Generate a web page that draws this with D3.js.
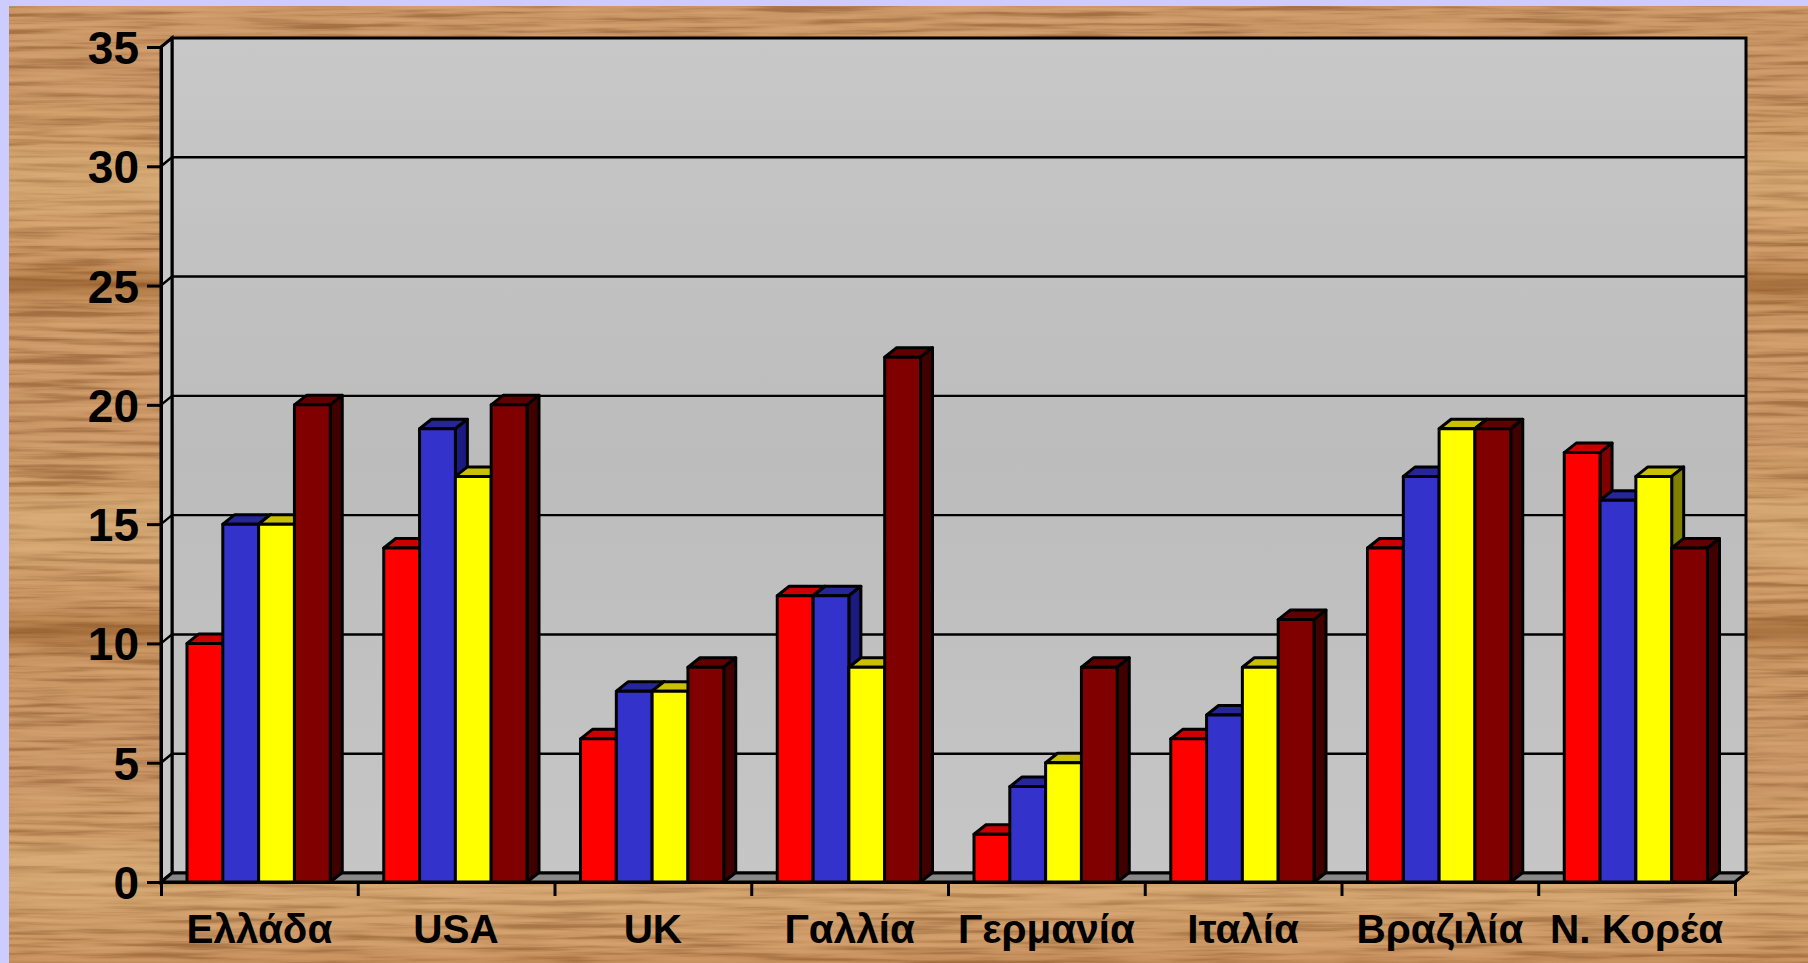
<!DOCTYPE html>
<html><head><meta charset="utf-8">
<script src="https://cdn.jsdelivr.net/npm/d3@7"></script>
<style>html,body{margin:0;padding:0;background:#CCCCFF;overflow:hidden}svg{display:block}text{font-family:"Liberation Sans",Arial,sans-serif;font-weight:bold;fill:#000}</style>
</head><body><div id="c"></div>
<script>
const categories = ["Ελλάδα","USA","UK","Γαλλία","Γερμανία","Ιταλία","Βραζιλία","Ν. Κορέα"];
const seriesA = [10,14,6,12,2,6,14,18];
const seriesB = [15,19,8,12,4,7,17,16];
const seriesC = [15,17,8,9,5,9,19,17];
const seriesD = [20,20,9,22,9,11,19,14];
const yTicks = [0,5,10,15,20,25,30,35];
const fronts = ["#FF0000","#3333CC","#FFFF00","#800000"];
const tops   = ["#CC0000","#262699","#C8C000","#600000"];
const sides  = ["#800000","#1A1A80","#808000","#400000"];

const W=1808,H=963;
const svg=d3.select("#c").append("svg").attr("width",W).attr("height",H);
const defs=svg.append("defs");
const f=defs.append("filter").attr("id","wood").attr("x",0).attr("y",0).attr("width","100%").attr("height","100%").attr("color-interpolation-filters","sRGB");
f.append("feTurbulence").attr("type","fractalNoise").attr("baseFrequency","0.008 0.17").attr("numOctaves",3).attr("seed",11);
f.append("feColorMatrix").attr("type","matrix").attr("values","1 0 0 0 0 1 0 0 0 0 1 0 0 0 0 0 0 0 0 1");
const ct=f.append("feComponentTransfer");
ct.append("feFuncR").attr("type","table").attr("tableValues","0.62 0.62 0.64 0.72 0.79 0.82 0.84 0.85 0.85");
ct.append("feFuncG").attr("type","table").attr("tableValues","0.42 0.42 0.44 0.52 0.59 0.62 0.64 0.65 0.65");
ct.append("feFuncB").attr("type","table").attr("tableValues","0.24 0.24 0.26 0.33 0.39 0.42 0.44 0.45 0.45");
const wall=defs.append("linearGradient").attr("id","wall").attr("x1",0).attr("y1",0).attr("x2",0).attr("y2",1);
[[0,"#C8C8C8"],[0.5,"#BCBCBC"],[1,"#C6C6C6"]].forEach(s=>wall.append("stop").attr("offset",s[0]).attr("stop-color",s[1]));
// broad grain bands repeating down the panel, as a tiled wood picture does
const bands=defs.append("linearGradient").attr("id","bands").attr("gradientUnits","userSpaceOnUse")
 .attr("x1",0).attr("x2",0).attr("y1",-62).attr("y2",285).attr("spreadMethod","repeat");
[[0,"#8A5220",0.6],[0.05,"#B07840",0.25],[0.12,"#C08860",0.1],[0.45,"#C48E66",0.25],[0.6,"#D8B070",0.1],[0.62,"#DDB880",0.45],[0.78,"#DDB880",0.3],[0.9,"#C89060",0.1],[0.96,"#A86C34",0.35],[1,"#8A5220",0.6]]
 .forEach(s=>bands.append("stop").attr("offset",s[0]).attr("stop-color",s[1]).attr("stop-opacity",s[2]));

svg.append("rect").attr("x",9).attr("y",6).attr("width",W-9).attr("height",H-6).attr("filter","url(#wood)");
svg.append("rect").attr("x",9).attr("y",6).attr("width",W-9).attr("height",H-6).attr("fill","url(#bands)");

// layout
const x0=161,x1=1735,dx=11,dy=-9,bdx=12,bdy=-9.5;
const y=d3.scaleLinear().domain([0,35]).range([882,47]);
const xBand=d3.scaleBand().domain(categories).range([x0,x1]);
const inner=d3.scaleBand().domain([0,1,2,3]).range([26,xBand.bandwidth()-27.5]);
const series=[seriesA,seriesB,seriesC,seriesD];
const line=d3.line();
const SW=3;

// walls and floor
const g=svg.append("g").attr("stroke","#000").attr("stroke-linejoin","miter");
g.append("rect").attr("x",x0+dx).attr("y",y(35)+dy).attr("width",x1-x0).attr("height",y(0)-y(35))
 .attr("fill","url(#wall)").attr("stroke-width",SW);
g.append("path").attr("d",line([[x0,y(35)],[x0+dx,y(35)+dy],[x0+dx,y(0)+dy],[x0,y(0)]])+"Z").attr("fill","#C8C8C8").attr("stroke-width",SW);
g.append("path").attr("d",line([[x0,y(0)],[x0+dx,y(0)+dy],[x1+dx,y(0)+dy],[x1,y(0)]])+"Z").attr("fill","#888888").attr("stroke-width",SW);

// gridlines
g.selectAll("path.grid").data(yTicks.filter(t=>t>0&&t<35)).join("path").attr("class","grid")
 .attr("fill","none").attr("stroke-width",2.4)
 .attr("d",t=>line([[x0,y(t)],[x0+dx,y(t)+dy],[x1+dx,y(t)+dy]]));

// bars
categories.forEach((c,i)=>{
  const cg=svg.append("g").attr("stroke","#000").attr("stroke-width",SW).attr("stroke-linejoin","round");
  series.forEach((s,k)=>{
    const l=xBand(c)+inner(k),w=inner.bandwidth(),t=y(s[i]),b=y(0),r=l+w;
    cg.append("path").attr("fill",tops[k]).attr("d",line([[l,t],[l+bdx,t+bdy],[r+bdx,t+bdy],[r,t]])+"Z");
    cg.append("path").attr("fill",sides[k]).attr("d",line([[r,t],[r+bdx,t+bdy],[r+bdx,b+bdy],[r,b]])+"Z");
    cg.append("rect").attr("x",l).attr("y",t).attr("width",w).attr("height",b-t).attr("fill",fronts[k]);
  });
});

// axes
const yAxis=svg.append("g").attr("transform",`translate(${x0},0)`)
 .call(d3.axisLeft(y).tickValues(yTicks).tickSize(14).tickPadding(8).tickFormat(d3.format("d")));
yAxis.select(".domain").attr("stroke","#000").attr("stroke-width",SW);
yAxis.selectAll("line").attr("stroke","#000").attr("stroke-width",SW);
yAxis.selectAll("text").attr("font-size",46).attr("font-family",null).attr("dy","0.36em");

const xEdge=d3.scaleLinear().domain([0,categories.length]).range([x0,x1]);
const xAxis=svg.append("g").attr("transform",`translate(0,${y(0)})`)
 .call(d3.axisBottom(xEdge).tickValues(d3.range(categories.length+1)).tickSize(14).tickFormat(""));
xAxis.select(".domain").attr("stroke","#000").attr("stroke-width",SW);
xAxis.selectAll("line").attr("stroke","#000").attr("stroke-width",SW);

svg.append("g").selectAll("text").data(categories).join("text")
 .attr("x",c=>xBand(c)+xBand.bandwidth()/2).attr("y",943).attr("text-anchor","middle").attr("font-size",40.5)
 .text(c=>c);
</script></body></html>
